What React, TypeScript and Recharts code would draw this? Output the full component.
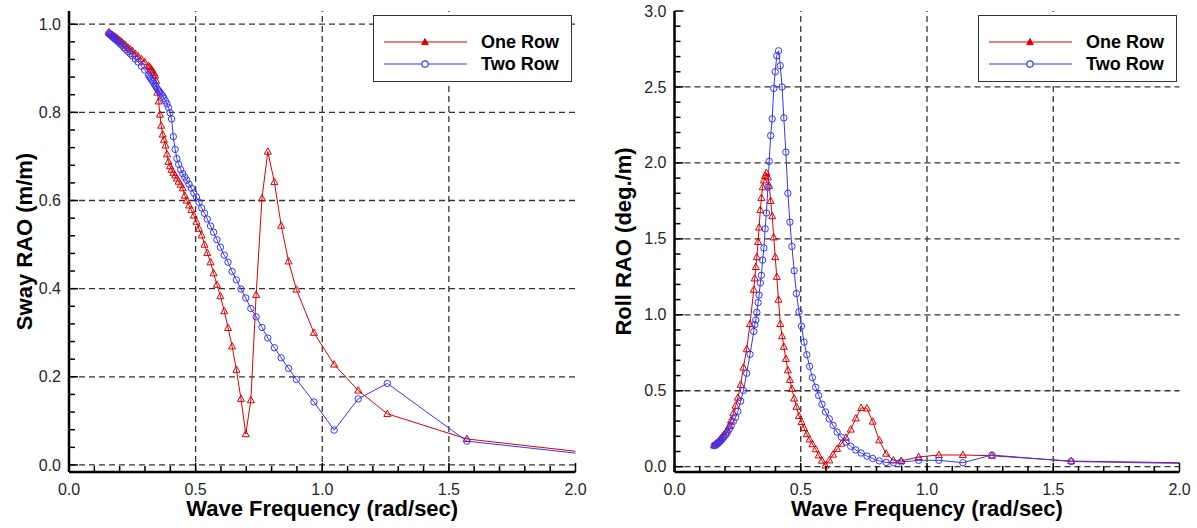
import React from 'react';
import { LineChart, Line, XAxis, YAxis, ReferenceLine, Legend } from 'recharts';

const FONT = '"Liberation Sans", Arial, Helvetica, sans-serif';
const RED = '#dc0000';
const BLUE = '#3535ff';

// Wave frequency (rad/sec)
const frequencies = [
  0.157, 0.161, 0.165, 0.170, 0.175, 0.180, 0.185, 0.190, 0.196, 0.203,
  0.209, 0.217, 0.224, 0.233, 0.242, 0.251, 0.262, 0.273, 0.286, 0.299,
  0.314, 0.318, 0.322, 0.326, 0.331, 0.335, 0.340, 0.344, 0.349, 0.354,
  0.359, 0.364, 0.370, 0.375, 0.381, 0.387, 0.393, 0.399, 0.405, 0.412,
  0.419, 0.426, 0.433, 0.441, 0.449, 0.457, 0.465, 0.474, 0.483, 0.493,
  0.503, 0.513, 0.524, 0.535, 0.546, 0.559, 0.571, 0.584, 0.598, 0.613,
  0.628, 0.644, 0.661, 0.679, 0.698, 0.718, 0.739, 0.762, 0.785, 0.811,
  0.838, 0.867, 0.898, 0.967, 1.047, 1.142, 1.257, 1.571, 2.094,
];

// Sway RAO (m/m)
const swayOneRow = [
  0.982, 0.980, 0.978, 0.976, 0.974, 0.972, 0.970, 0.968, 0.965, 0.962,
  0.959, 0.955, 0.952, 0.947, 0.943, 0.939, 0.933, 0.927, 0.921, 0.914,
  0.905, 0.903, 0.900, 0.897, 0.893, 0.889, 0.884, 0.872, 0.845, 0.825,
  0.795, 0.770, 0.750, 0.738, 0.725, 0.705, 0.688, 0.678, 0.670, 0.663,
  0.657, 0.650, 0.643, 0.636, 0.628, 0.611, 0.600, 0.589, 0.579, 0.566,
  0.552, 0.536, 0.521, 0.500, 0.481, 0.460, 0.435, 0.409, 0.383, 0.349,
  0.311, 0.269, 0.216, 0.150, 0.070, 0.147, 0.386, 0.605, 0.711, 0.642,
  0.543, 0.462, 0.398, 0.300, 0.228, 0.169, 0.116, 0.059, 0.025,
];
const swayTwoRow = [
  0.979, 0.977, 0.975, 0.972, 0.970, 0.967, 0.965, 0.962, 0.959, 0.955,
  0.952, 0.947, 0.943, 0.938, 0.933, 0.928, 0.921, 0.914, 0.905, 0.896,
  0.885, 0.881, 0.878, 0.874, 0.870, 0.866, 0.862, 0.858, 0.853, 0.849,
  0.846, 0.842, 0.837, 0.832, 0.826, 0.819, 0.811, 0.799, 0.785, 0.745,
  0.716, 0.695, 0.682, 0.670, 0.661, 0.653, 0.646, 0.637, 0.628, 0.617,
  0.608, 0.596, 0.583, 0.571, 0.558, 0.542, 0.528, 0.511, 0.494, 0.476,
  0.460, 0.439, 0.420, 0.399, 0.379, 0.355, 0.336, 0.312, 0.288, 0.266,
  0.243, 0.219, 0.194, 0.143, 0.079, 0.150, 0.185, 0.054, 0.021,
];

// Roll RAO (deg./m)
const rollOneRow = [
  0.140, 0.146, 0.152, 0.159, 0.167, 0.178, 0.188, 0.199, 0.211, 0.226,
  0.240, 0.270, 0.305, 0.352, 0.402, 0.455, 0.540, 0.653, 0.774, 0.939,
  1.165, 1.240, 1.315, 1.380, 1.480, 1.575, 1.690, 1.770, 1.840, 1.885,
  1.915, 1.935, 1.905, 1.850, 1.750, 1.650, 1.510, 1.380, 1.250, 1.100,
  0.940, 0.860, 0.790, 0.710, 0.635, 0.572, 0.513, 0.449, 0.395, 0.334,
  0.295, 0.255, 0.215, 0.180, 0.148, 0.115, 0.075, 0.040, 0.008, 0.042,
  0.080, 0.118, 0.152, 0.191, 0.245, 0.318, 0.387, 0.384, 0.297, 0.174,
  0.086, 0.042, 0.038, 0.064, 0.077, 0.077, 0.072, 0.037, 0.024,
];
const rollTwoRow = [
  0.139, 0.142, 0.146, 0.152, 0.159, 0.167, 0.175, 0.184, 0.195, 0.210,
  0.225, 0.248, 0.268, 0.298, 0.325, 0.365, 0.432, 0.502, 0.615, 0.740,
  0.890, 0.935, 0.966, 1.016, 1.080, 1.130, 1.210, 1.260, 1.360, 1.440,
  1.566, 1.670, 1.840, 2.010, 2.180, 2.290, 2.490, 2.600, 2.705, 2.738,
  2.640, 2.500, 2.296, 2.071, 1.800, 1.610, 1.450, 1.290, 1.140, 1.020,
  0.925, 0.820, 0.737, 0.660, 0.587, 0.523, 0.468, 0.411, 0.360, 0.315,
  0.272, 0.228, 0.195, 0.162, 0.134, 0.110, 0.090, 0.070, 0.054, 0.038,
  0.028, 0.026, 0.031, 0.042, 0.042, 0.026, 0.077, 0.034, 0.019,
];

const seriesNames = ['One Row', 'Two Row'];

const xMajorTicks = [0.0, 0.5, 1.0, 1.5, 2.0];
const xMinorTicks = [
  0.0, 0.1, 0.2, 0.3, 0.4, 0.5, 0.6, 0.7, 0.8, 0.9, 1.0,
  1.1, 1.2, 1.3, 1.4, 1.5, 1.6, 1.7, 1.8, 1.9, 2.0,
];
const swayMajorTicks = [0.0, 0.2, 0.4, 0.6, 0.8, 1.0];
const swayMinorTicks = [
  0.0, 0.04, 0.08, 0.12, 0.16, 0.2, 0.24, 0.28, 0.32, 0.36, 0.4, 0.44, 0.48,
  0.52, 0.56, 0.6, 0.64, 0.68, 0.72, 0.76, 0.8, 0.84, 0.88, 0.92, 0.96, 1.0,
];
const rollMajorTicks = [0.0, 0.5, 1.0, 1.5, 2.0, 2.5, 3.0];
const rollMinorTicks = [
  0.0, 0.1, 0.2, 0.3, 0.4, 0.5, 0.6, 0.7, 0.8, 0.9, 1.0, 1.1, 1.2, 1.3, 1.4, 1.5,
  1.6, 1.7, 1.8, 1.9, 2.0, 2.1, 2.2, 2.3, 2.4, 2.5, 2.6, 2.7, 2.8, 2.9, 3.0,
];

const isMajor = (majors: number[], v: number) => majors.some((m) => Math.abs(m - v) < 1e-9);

const makeXTick = (majors: number[]) => (props: any) => {
  const { x, y, payload, index } = props;
  const v = payload.value as number;
  const major = isMajor(majors, v);
  return (
    <g key={`xt${index}`}>
      <line x1={x} x2={x} y1={y} y2={y - (major ? 9 : 6)} stroke="#000" strokeWidth={1.5} />
      {major && (
        <text x={x} y={y + 23} textAnchor="middle" fontFamily={FONT} fontSize={16} fill="#262626">
          {v.toFixed(1)}
        </text>
      )}
    </g>
  );
};

const makeYTick = (majors: number[]) => (props: any) => {
  const { x, y, payload, index } = props;
  const v = payload.value as number;
  const major = isMajor(majors, v);
  return (
    <g key={`yt${index}`}>
      <line x1={x} x2={x + (major ? 9 : 6)} y1={y} y2={y} stroke="#000" strokeWidth={1.5} />
      {major && (
        <text x={x - 8} y={y + 5.6} textAnchor="end" fontFamily={FONT} fontSize={16} fill="#262626">
          {v.toFixed(1)}
        </text>
      )}
    </g>
  );
};

const renderTriangle = (props: any) => {
  const { cx, cy, index } = props;
  if (typeof cx !== 'number' || typeof cy !== 'number') return <g key={`t${index}`} />;
  return (
    <path
      key={`t${index}`}
      d={`M${cx},${cy - 3.8}L${cx + 3.5},${cy + 2.6}L${cx - 3.5},${cy + 2.6}Z`}
      fill="none"
      stroke={RED}
      strokeWidth={1}
    />
  );
};

const renderCircle = (props: any) => {
  const { cx, cy, index } = props;
  if (typeof cx !== 'number' || typeof cy !== 'number') return <g key={`c${index}`} />;
  return <circle key={`c${index}`} cx={cx} cy={cy} r={3.2} fill="none" stroke={BLUE} strokeWidth={1} />;
};

function LegendBox() {
  const items = [
    { name: seriesNames[0], color: RED, shape: 'tri' },
    { name: seriesNames[1], color: BLUE, shape: 'circle' },
  ];
  return (
    <div
      style={{
        width: 197,
        height: 65,
        border: '1px solid #333',
        background: '#fff',
        position: 'relative',
        fontFamily: FONT,
      }}
    >
      {items.map((s, i) => (
        <div key={s.name} style={{ position: 'absolute', left: 0, top: i === 0 ? 15 : 37, height: 22, width: 197 }}>
          <svg width={100} height={22} style={{ position: 'absolute', left: 0, top: 0 }}>
            <line x1={10} x2={93} y1={11} y2={11} stroke={s.color} strokeWidth={1.2} />
            {s.shape === 'tri' ? (
              <path d="M51,7.6L54.3,13.6L47.7,13.6Z" fill={s.color} stroke={s.color} strokeWidth={1} />
            ) : (
              <circle cx={51} cy={11} r={3.2} fill="#fff" stroke={s.color} strokeWidth={1.2} />
            )}
          </svg>
          <span
            style={{
              position: 'absolute',
              left: 107,
              top: 0,
              lineHeight: '22px',
              fontSize: 18,
              fontWeight: 'bold',
              color: '#000',
              whiteSpace: 'nowrap',
            }}
          >
            {s.name}
          </span>
        </div>
      ))}
    </div>
  );
}

type ChartProps = {
  left: number;
  width: number;
  marginLeft: number;
  marginRight: number;
  yDomain: [number, number];
  yMajor: number[];
  yMinor: number[];
  yLabel: string;
  yLabelBaseX: number;
  one: number[];
  two: number[];
  legendLeft: number;
};

const AXIS_LINE = { stroke: '#000', strokeWidth: 2.5 };
const GRID = { stroke: '#333', strokeDasharray: '6 4', strokeWidth: 1.3 };

function RaoChart(p: ChartProps) {
  const rows = frequencies.map((f, i) => ({ f, one: p.one[i], two: p.two[i] }));
  const gridX = xMajorTicks.filter((v) => v > 0.001 && v < 1.999);
  const gridY = p.yMajor.filter((v) => v > p.yDomain[0] + 1e-6 && v < p.yDomain[1] - 1e-6);
  return (
    <div style={{ position: 'absolute', left: p.left, top: 0 }}>
      <LineChart
        width={p.width}
        height={528}
        data={rows}
        margin={{ top: 11, right: p.marginRight, bottom: 0, left: p.marginLeft }}
      >
        {gridX.map((v) => (
          <ReferenceLine key={`gx${v}`} x={v} {...GRID} />
        ))}
        {gridY.map((v) => (
          <ReferenceLine key={`gy${v}`} y={v} {...GRID} />
        ))}
        <XAxis
          dataKey="f"
          type="number"
          domain={[0, 2]}
          allowDataOverflow
          ticks={xMinorTicks}
          interval={0}
          tickSize={0}
          tickMargin={0}
          tickLine={false}
          tick={makeXTick(xMajorTicks)}
          axisLine={AXIS_LINE}
          height={56}
          label={{
            content: (lp: any) => {
              const vb = lp.viewBox || { x: 0, width: 0 };
              return (
                <text
                  x={vb.x + vb.width / 2}
                  y={516}
                  textAnchor="middle"
                  fontFamily={FONT}
                  fontSize={22}
                  fontWeight="bold"
                  fill="#000"
                >
                  Wave Frequency (rad/sec)
                </text>
              );
            },
          }}
        />
        <XAxis
          xAxisId="top"
          orientation="top"
          type="number"
          domain={[0, 2]}
          height={0}
          tick={false}
          tickLine={false}
          axisLine={AXIS_LINE}
        />
        <YAxis
          type="number"
          domain={p.yDomain}
          allowDataOverflow
          ticks={p.yMinor}
          interval={0}
          tickSize={0}
          tickMargin={0}
          tickLine={false}
          tick={makeYTick(p.yMajor)}
          axisLine={AXIS_LINE}
          width={60}
          label={{
            content: (lp: any) => {
              const vb = lp.viewBox || { y: 0, height: 0 };
              const cy = vb.y + vb.height / 2;
              return (
                <text
                  x={p.yLabelBaseX}
                  y={cy}
                  transform={`rotate(-90 ${p.yLabelBaseX} ${cy})`}
                  textAnchor="middle"
                  fontFamily={FONT}
                  fontSize={22}
                  fontWeight="bold"
                  fill="#000"
                >
                  {p.yLabel}
                </text>
              );
            },
          }}
        />
        <YAxis
          yAxisId="right"
          orientation="right"
          type="number"
          domain={p.yDomain}
          width={0}
          tick={false}
          tickLine={false}
          axisLine={AXIS_LINE}
        />
        <Line
          dataKey="one"
          name={seriesNames[0]}
          type="linear"
          stroke={RED}
          strokeWidth={1}
          dot={renderTriangle}
          activeDot={false}
          isAnimationActive={false}
        />
        <Line
          dataKey="two"
          name={seriesNames[1]}
          type="linear"
          stroke={BLUE}
          strokeWidth={1}
          dot={renderCircle}
          activeDot={false}
          isAnimationActive={false}
        />
        <Legend
          layout="vertical"
          align="center"
          verticalAlign="middle"
          wrapperStyle={{ left: p.legendLeft, top: 15, width: 199 }}
          content={() => <LegendBox />}
        />
      </LineChart>
    </div>
  );
}

export default function App() {
  return (
    <div style={{ position: 'absolute', left: 0, top: 0, width: 1197, height: 528, background: '#fff', fontFamily: FONT }}>
      <RaoChart
        left={0}
        width={600}
        marginLeft={9}
        marginRight={24.5}
        yDomain={[-0.016, 1.03]}
        yMajor={swayMajorTicks}
        yMinor={swayMinorTicks}
        yLabel="Sway RAO (m/m)"
        yLabelBaseX={32}
        one={swayOneRow}
        two={swayTwoRow}
        legendLeft={373}
      />
      <RaoChart
        left={600}
        width={597}
        marginLeft={14.5}
        marginRight={17.5}
        yDomain={[-0.035, 3.0]}
        yMajor={rollMajorTicks}
        yMinor={rollMinorTicks}
        yLabel="Roll RAO (deg./m)"
        yLabelBaseX={31}
        one={rollOneRow}
        two={rollTwoRow}
        legendLeft={378}
      />
    </div>
  );
}
